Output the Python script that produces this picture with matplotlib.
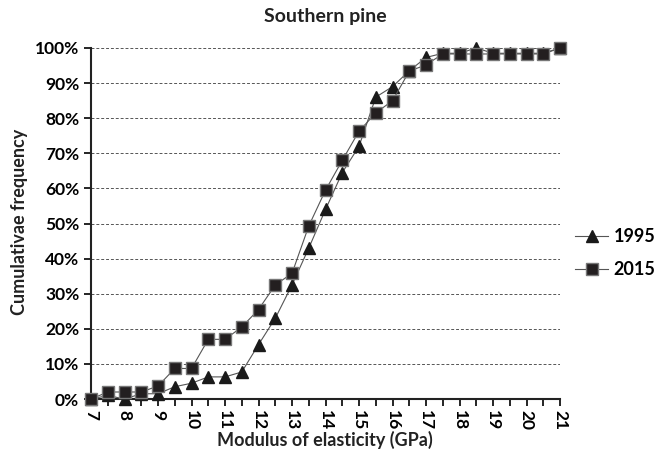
import matplotlib
matplotlib.use('Agg')
import matplotlib.pyplot as plt
from matplotlib.ticker import MultipleLocator, FuncFormatter

plt.rcParams['font.family'] = ['Lato', 'DejaVu Sans']

moe = [7, 7.5, 8, 8.5, 9, 9.5, 10, 10.5, 11, 11.5, 12, 12.5, 13, 13.5, 14,
       14.5, 15, 15.5, 16, 16.5, 17, 17.5, 18, 18.5, 19, 19.5, 20, 20.5, 21]
freq_1995 = [0, 1, 0, 1.5, 1.5, 3.5, 4.5, 6.3, 6.3, 7.7, 15.5, 23, 32.5, 43, 54,
             64.5, 72, 86, 89, 93.5, 97.3, 98.5, 98.5, 100, 98.5, 98.5, 98.5, 98.5, 100]
freq_2015 = [0, 2, 2, 2, 3.7, 8.7, 8.7, 17, 17, 20.5, 25.5, 32.5, 35.8, 49.3, 59.5,
             68, 76.3, 81.5, 85, 93.4, 95.2, 98.3, 98.3, 98.3, 98.3, 98.3, 98.3, 98.3, 100]

fig = plt.figure(figsize=(6.63, 4.58), dpi=100)
ax = fig.add_axes([0.1373, 0.1288, 0.7074, 0.7664])

ax.plot(moe, freq_1995, color='#555555', lw=0.8, marker='^', ms=9,
        mfc='#1a1a1a', mec='#1a1a1a', label='1995', zorder=3, clip_on=False)
ax.plot(moe, freq_2015, color='#555555', lw=0.8, marker='s', ms=9,
        mfc='#231f20', mec='#777777', mew=1, label='2015', zorder=4, clip_on=False)

ax.set_xlim(7, 21)
ax.set_ylim(0, 100)
ax.xaxis.set_major_locator(MultipleLocator(1))
ax.xaxis.set_minor_locator(MultipleLocator(0.5))
ax.yaxis.set_major_locator(MultipleLocator(10))
ax.yaxis.set_major_formatter(FuncFormatter(lambda v, p: f'{v:.0f}%'))
ax.grid(axis='y', ls=(0, (3, 2)), color='#555555', lw=0.7)
ax.set_axisbelow(True)

for s in ['top', 'right']:
    ax.spines[s].set_visible(False)
for s in ['left', 'bottom']:
    ax.spines[s].set_linewidth(1.5)
    ax.spines[s].set_color('#222222')

ax.tick_params(axis='x', which='both', direction='out', length=5, width=1.2,
               labelsize=12.5, pad=3)
ax.tick_params(axis='y', direction='out', length=5, width=1.2, labelsize=12.5)
for lbl in ax.get_xticklabels():
    lbl.set_rotation(-90)
    lbl.set_fontweight('bold')
for lbl in ax.get_yticklabels():
    lbl.set_fontweight('bold')

fig.text(0.49, 0.963, 'Southern pine', ha='center', va='center',
         fontsize=14, fontweight='bold', color='#222222')
fig.text(0.49, 0.04, 'Modulus of elasticity (GPa)', ha='center', va='center',
         fontsize=13, fontweight='bold', color='#222222')
fig.text(0.03, 0.515, 'Cumulativae frequency', ha='center', va='center',
         rotation=90, fontsize=13, fontweight='bold', color='#222222')

fig.legend(loc='center left', bbox_to_anchor=(0.868, 0.447), frameon=False,
           prop={'size': 13, 'weight': 'bold'}, handlelength=1.8,
           labelspacing=0.9, handletextpad=0.3, borderpad=0, borderaxespad=0)

fig.savefig('out.png', dpi=100)
